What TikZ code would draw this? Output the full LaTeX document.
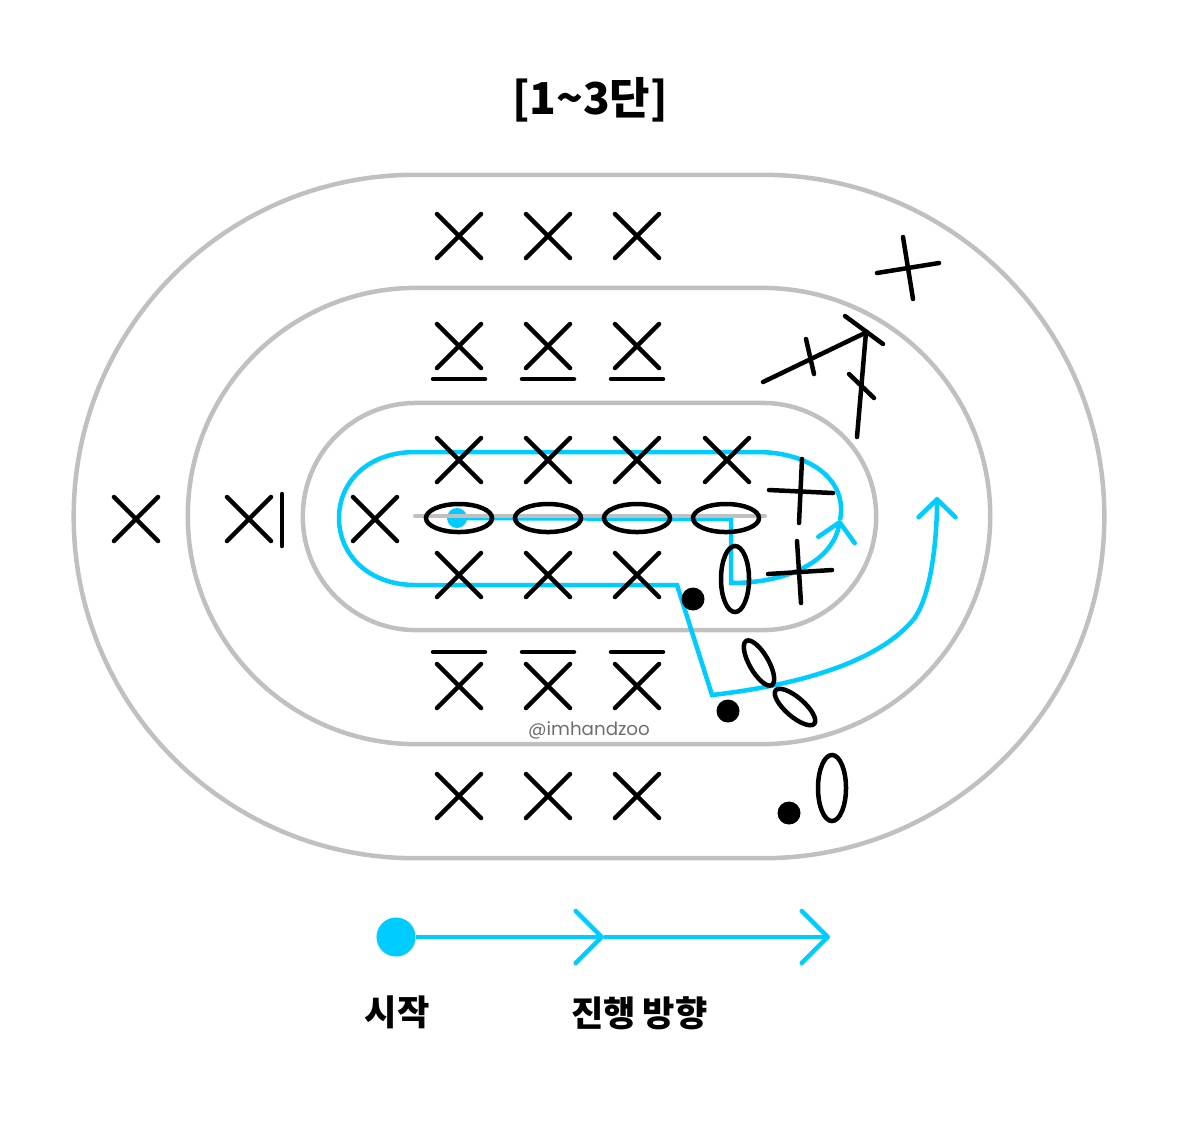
\documentclass[tikz,border=0pt]{standalone}
\usepackage{fontspec}
\setmainfont{Noto Sans CJK KR}
\newfontfamily\tagfont{Poppins}
\usetikzlibrary{shapes.geometric, shapes.misc, arrows.meta, positioning}
\definecolor{ringcolor}{RGB}{192,192,192}
\definecolor{pathcolor}{RGB}{0,204,255}
\definecolor{tagcolor}{RGB}{110,110,110}

\begin{document}
\begin{tikzpicture}[
    x=0.01cm, y=-0.01cm,
    ring/.style={rectangle, draw=ringcolor, line width=0.045cm, inner sep=0pt},
    xstitch/.style={cross out, draw, line width=0.045cm, line cap=round, minimum size=0.44cm, inner sep=0pt, outer sep=0pt},
    oval/.style={ellipse, draw, line width=0.045cm, inner sep=0pt, minimum width=0.66cm, minimum height=0.28cm},
    knot/.style={circle, fill=black, inner sep=0pt, minimum size=0.23cm},
    stroke/.style={line width=0.045cm, line cap=round},
    route/.style={draw=pathcolor, line width=0.045cm, line join=miter},
    arrow/.style={route, -{Straight Barb[length=0.26cm, width=0.52cm, line width=0.045cm, round]}},
    smallarrow/.style={route, -{Straight Barb[length=0.18cm, width=0.37cm, line width=0.045cm, round]}},
    label/.style={font=\bfseries\fontsize{10}{12}\selectfont, inner sep=0pt}
]
    \useasboundingbox (0,0) rectangle (1179,1126);

    % Title
    \node[font=\bfseries\fontsize{12.5}{15}\selectfont, inner sep=0pt] (title) at (590,100) {[1\textasciitilde 3단]};

    % Rings
    \node[ring, minimum width=10.3cm, minimum height=6.83cm, rounded corners=3.41cm] (outerring) at (589,516.5) {};
    \node[ring, minimum width=8.02cm, minimum height=4.56cm, rounded corners=2.28cm] (midring) at (589,516) {};
    \node[ring, minimum width=5.73cm, minimum height=2.27cm, rounded corners=1.13cm] (innerring) at (589.5,516.5) {};

    % Blue route
    \node[circle, fill=pathcolor, inner sep=0pt, minimum size=0.2cm] (start) at (457,518) {};
    \coordinate (turna) at (731,519);
    \coordinate (turnb) at (731,583);
    \coordinate (tipa) at (840,520);
    \coordinate (topright) at (757,452);
    \coordinate (topleft) at (415,452);
    \coordinate (botleft) at (415,585);
    \coordinate (bend) at (677,585);
    \coordinate (drop) at (712,695);
    \coordinate (swing) at (913,620);
    \coordinate (tipb) at (937,497);

    \draw[smallarrow] (start.center) -- (turna) -- (turnb) .. controls (790,583) and (833,560) .. (tipa);
    \draw[route] (tipa) .. controls (848,480) and (810,452) .. (topright) -- (topleft)
        .. controls (370,452) and (339,480) .. (339,518) .. controls (339,556) and (370,585) .. (botleft)
        -- (bend) -- (drop) .. controls (790,686) and (875,665) .. (swing);
    \draw[smallarrow] (swing) .. controls (933,595) and (937,530) .. (tipb);

    % Centre line
    \draw[ringcolor, line width=0.04cm, line cap=round] (415,516) -- (765,516);

    % Row of x stitches
    \foreach \px in {459,548,637} {
        \node[xstitch] (top\px) at (\px,236) {};
        \node[xstitch] (under\px) at (\px,346) {};
        \node[xstitch] (upper\px) at (\px,460) {};
        \node[xstitch] (lower\px) at (\px,575) {};
        \node[xstitch] (over\px) at (\px,686) {};
        \node[xstitch] (bot\px) at (\px,796) {};
        \draw[stroke] (\px-26,379) -- (\px+26,379);
        \draw[stroke] (\px-26,652) -- (\px+26,652);
    }
    \node[xstitch] (upper727) at (727,460) {};

    % Left side
    \node[xstitch] (lefta) at (375,519) {};
    \node[xstitch] (leftb) at (249,519) {};
    \node[xstitch] (leftc) at (136,519) {};
    \draw[stroke] (282,494) -- (282,546);

    % Ovals on the chain
    \foreach \px in {459,548,637,726} {
        \node[oval] (chain\px) at (\px,518) {};
    }

    % Lower right
    \node[oval, rotate=90] (ovala) at (735,579) {};
    \node[knot] (knota) at (693,599) {};
    \node[oval, rotate=-60, minimum width=0.51cm, minimum height=0.19cm] (ovalb) at (759,663) {};
    \node[oval, rotate=-41, minimum width=0.51cm, minimum height=0.19cm] (ovalc) at (795,707) {};
    \node[knot] (knotb) at (728,711) {};
    \node[oval, rotate=90] (ovald) at (832,788) {};
    \node[knot] (knotc) at (789,813) {};

    % Upper right
    \draw[stroke] (769,490) -- (833,493);
    \draw[stroke] (802,459) -- (799,523);
    \draw[stroke] (768,574) -- (832,570);
    \draw[stroke] (797,541) -- (801,603);
    \draw[stroke] (763,382) -- (867,332);
    \draw[stroke] (806,339) -- (814,374);
    \draw[stroke] (845,316) -- (883,344);
    \draw[stroke] (857,437) -- (866,332);
    \draw[stroke] (849,374) -- (874,398);
    \draw[stroke] (903,237) -- (913,299);
    \draw[stroke] (877,273) -- (939,263);

    % Handle
    \node[font=\tagfont\fontsize{5.2}{6}\selectfont, text=tagcolor, inner sep=0pt] (handle) at (589,730) {@imhandzoo};

    % Legend
    \node[circle, fill=pathcolor, inner sep=0pt, minimum size=0.39cm] (legdot) at (396,937) {};
    \coordinate (legmid) at (604,937);
    \coordinate (legend) at (830,937);
    \draw[arrow] (legdot) -- (legmid);
    \draw[arrow] (legmid) -- (legend);
    \node[label] (startlabel) at (397,1012) {시작};
    \node[label] (dirlabel) at (639.5,1013) {\spaceskip=.2em 진행 방향};

\end{tikzpicture}
\end{document}
